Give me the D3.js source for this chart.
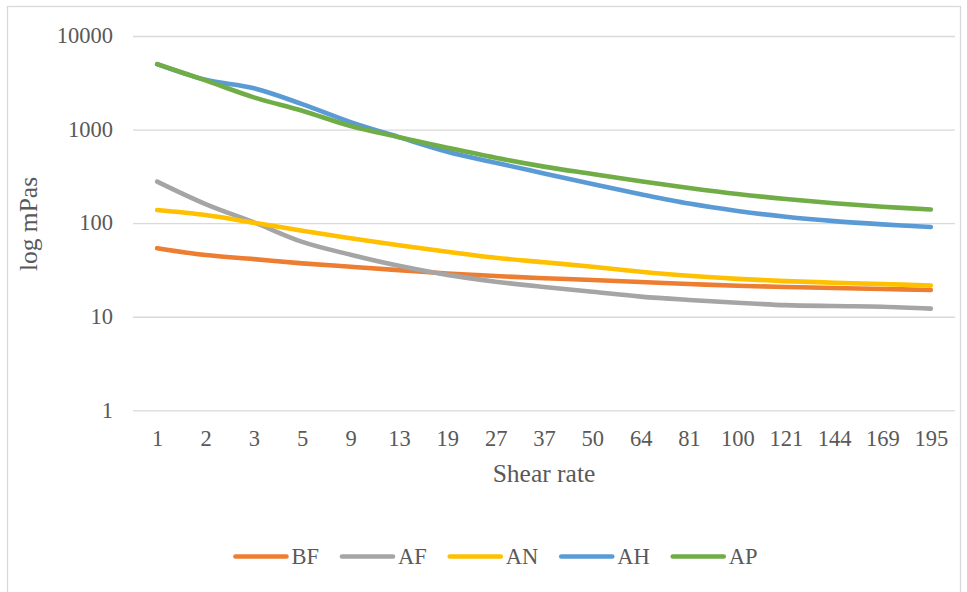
<!DOCTYPE html>
<html>
<head>
<meta charset="utf-8">
<script src="https://cdn.jsdelivr.net/npm/d3@7"></script>
<style>
  html, body { margin: 0; padding: 0; background: #ffffff; }
  svg { display: block; }
  text { font-family: "Liberation Serif", "Times New Roman", serif; fill: #595959; }
</style>
</head>
<body>
<svg id="chart" width="967" height="592"></svg>
<script>
// Shear-rate categories (x axis)
const shearRates = ["1","2","3","5","9","13","19","27","37","50","64","81","100","121","144","169","195"];

// Viscosity (mPas) per sample
const BF = [54, 45.6, 41.3, 37.2, 34.2, 31.5, 29, 27.2, 25.8, 24.7, 23.5, 22.4, 21.4, 20.8, 20.3, 19.8, 19.3];
const AF = [278, 160, 102, 63, 46, 35, 28, 23.7, 20.8, 18.5, 16.4, 15.1, 14.1, 13.3, 13.0, 12.8, 12.2];
const AN = [138, 122, 101, 83, 69, 58, 49.5, 42.7, 38.2, 34.2, 30.3, 27.4, 25.4, 24, 23.1, 22.3, 21.6];
const AH = [5000, 3400, 2760, 1870, 1200, 830, 580, 442, 340, 262, 204, 162, 135, 117, 105, 97, 91];
const AP = [5000, 3350, 2210, 1590, 1090, 830, 640, 500, 402, 335, 280, 238, 205, 181, 163, 150, 140];

const seriesNames = ["BF", "AF", "AN", "AH", "AP"];
const seriesValues = [BF, AF, AN, AH, AP];
const seriesColors = ["#ED7D31", "#A5A5A5", "#FFC000", "#5B9BD5", "#70AD47"];

// Y ticks
const yTicks = [1, 10, 100, 1000, 10000];

const svg = d3.select("#chart");

// Outer chart frame
svg.append("rect")
  .attr("x", 7.5).attr("y", 6.5)
  .attr("width", 953).attr("height", 600)
  .attr("fill", "none")
  .attr("stroke", "#D9D9D9")
  .attr("stroke-width", 1.3);

const plotLeft = 133, plotRight = 955, plotTop = 36, plotBottom = 410.3;

const x = d3.scalePoint()
  .domain(shearRates)
  .range([plotLeft, plotRight])
  .padding(0.5);

const y = d3.scaleLog()
  .domain([1, 10000])
  .range([plotBottom, plotTop]);

// Horizontal gridlines
const grid = svg.append("g")
  .attr("transform", `translate(${plotLeft},0)`)
  .call(d3.axisLeft(y).tickValues(yTicks).tickSize(-(plotRight - plotLeft)).tickFormat(""));
grid.select(".domain").remove();
grid.selectAll(".tick line").attr("stroke", "#D9D9D9").attr("stroke-width", 1.3);

// Y tick labels
const yAxis = svg.append("g")
  .attr("transform", `translate(113,0)`)
  .call(d3.axisLeft(y).tickValues(yTicks).tickSize(0).tickPadding(0).tickFormat(d3.format("d")));
yAxis.select(".domain").remove();
yAxis.selectAll(".tick text")
  .attr("font-size", 22.5)
  .attr("dy", "0.3em")
  .style("font-family", '"Liberation Serif", "Times New Roman", serif')
  .attr("fill", "#595959");

// X tick labels
const xAxis = svg.append("g")
  .attr("transform", `translate(0,${plotBottom})`)
  .call(d3.axisBottom(x).tickSize(0).tickPadding(0));
xAxis.select(".domain").remove();
xAxis.selectAll(".tick text")
  .attr("font-size", 22.5)
  .attr("y", 36)
  .attr("dy", 0)
  .style("font-family", '"Liberation Serif", "Times New Roman", serif')
  .attr("fill", "#595959");

// Axis titles
svg.append("text")
  .attr("x", (plotLeft + plotRight) / 2)
  .attr("y", 482)
  .attr("text-anchor", "middle")
  .attr("font-size", 25.5)
  .text("Shear rate");

svg.append("text")
  .attr("transform", "translate(37,224) rotate(-90)")
  .attr("text-anchor", "middle")
  .attr("font-size", 25.5)
  .text("log mPas");

// Series lines
const line = d3.line()
  .x((d, i) => x(shearRates[i]))
  .y(d => y(d))
  .curve(d3.curveCatmullRom.alpha(0.5));

svg.append("g")
  .selectAll("path")
  .data(seriesValues)
  .join("path")
  .attr("d", d => line(d))
  .attr("fill", "none")
  .attr("stroke", (d, i) => seriesColors[i])
  .attr("stroke-width", 4.6)
  .attr("stroke-linecap", "round")
  .attr("stroke-linejoin", "round");

// Legend
const legend = svg.append("g");
const swatchW = 55, swatchGap = 3, entryGap = 21, legendY = 556.5;
let cursor = 0;
seriesNames.forEach((name, i) => {
  const g = legend.append("g");
  g.append("line")
    .attr("x1", cursor + 2).attr("x2", cursor + swatchW - 2)
    .attr("y1", legendY).attr("y2", legendY)
    .attr("stroke", seriesColors[i])
    .attr("stroke-width", 4.6)
    .attr("stroke-linecap", "round");
  const t = g.append("text")
    .attr("x", cursor + swatchW + swatchGap)
    .attr("y", legendY + 7)
    .attr("font-size", 22.5)
    .text(name);
  const w = t.node().getComputedTextLength();
  cursor += swatchW + swatchGap + w + entryGap;
});
const totalW = cursor - entryGap;
legend.attr("transform", `translate(${495.5 - totalW / 2},0)`);
</script>
</body>
</html>
